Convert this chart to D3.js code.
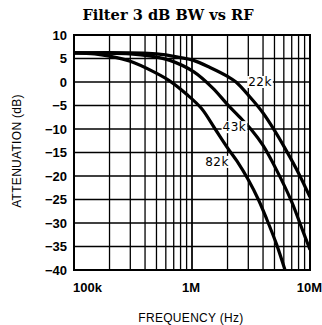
<!DOCTYPE html>
<html><head><meta charset="utf-8">
<script src="https://cdn.jsdelivr.net/npm/d3@7"></script>
<style>html,body{margin:0;padding:0;background:#fff;}svg{display:block;}</style>
</head><body>
<script>
// ---- data ----
const title = "Filter 3 dB BW vs RF";
const xTickValues = [1e5, 1e6, 1e7];
const xTickLabels = ["100k", "1M", "10M"];
const yTickValues = [10, 5, 0, -5, -10, -15, -20, -25, -30, -35, -40];
const seriesNames = ["22k", "43k", "82k"];
const freq22k = [1e5, 5e5, 8e5, 1.03e6, 1.42e6, 2.0e6, 2.36e6, 3.1e6, 4.0e6, 5.0e6, 6.3e6, 8.0e6, 1e7];
const att22k  = [6.2, 6.0, 5.2, 4.6, 3.1, 1.2, 0.0, -3.2, -6.6, -10.3, -14.6, -19.4, -24.5];
const freq43k = [1e5, 3e5, 4.5e5, 6.5e5, 1.03e6, 1.5e6, 2.0e6, 2.5e6, 3.2e6, 4.0e6, 5.2e6, 7.0e6, 8.2e6, 1e7];
const att43k  = [6.2, 6.0, 5.5, 4.6, 2.2, -1.3, -4.8, -7.3, -10.2, -13.5, -18.7, -25.5, -30.0, -35.7];
const freq82k = [1e5, 1.5e5, 2e5, 3e5, 4.7e5, 6.5e5, 9e5, 1.2e6, 1.57e6, 2.0e6, 2.4e6, 3.0e6, 3.65e6, 4.3e6, 5.2e6, 6.14e6];
const att82k  = [6.2, 6.0, 5.5, 4.4, 2.2, 0.2, -2.6, -5.6, -10.0, -14.0, -16.8, -20.8, -25.0, -29.2, -34.5, -40.0];
const labelFreq = [3.77e6, 2.29e6, 1.63e6];
const labelAtt  = [0, -9.6, -17];

(function () {
const series = [
  {name: seriesNames[0], f: freq22k, a: att22k},
  {name: seriesNames[1], f: freq43k, a: att43k},
  {name: seriesNames[2], f: freq82k, a: att82k}
];

// ---- layout ----
const W = 322, H = 325;
const mL = 74, mR = 310, mT = 35, mB = 270;
const svg = d3.select("body").append("svg").attr("width", W).attr("height", H);

const x = d3.scaleLog().domain([1e5, 1e7]).range([mL, mR]);
const y = d3.scaleLinear().domain([-40, 10]).range([mB, mT]);

// title
svg.append("text").attr("x", 168).attr("y", 20).attr("text-anchor", "middle")
  .attr("font-family", "DejaVu Serif").attr("font-weight", "bold").attr("font-size", 14.6)
  .text(title);

// grid
const minor = [];
for (let d = 1e5; d < 1e7; d *= 10) for (let m = 1; m <= 10; m++) minor.push(d * m);
const g = svg.append("g").attr("stroke", "#000").attr("stroke-width", 1.3);
g.selectAll("line.v").data(minor).enter().append("line")
  .attr("x1", d => x(d)).attr("x2", d => x(d)).attr("y1", mT).attr("y2", mB);
g.selectAll("line.h").data(yTickValues).enter().append("line")
  .attr("x1", mL).attr("x2", mR).attr("y1", d => y(d)).attr("y2", d => y(d));

// clip
svg.append("clipPath").attr("id", "clip").append("rect")
  .attr("x", mL).attr("y", mT).attr("width", mR - mL).attr("height", mB - mT);

const line = d3.line().x(d => x(d[0])).y(d => y(d[1])).curve(d3.curveCatmullRom.alpha(0.5));
svg.append("g").attr("clip-path", "url(#clip)").selectAll("path").data(series).enter().append("path")
  .attr("d", s => line(s.f.map((f, i) => [f, s.a[i]])))
  .attr("fill", "none").attr("stroke", "#000").attr("stroke-width", 3.2)
  .attr("stroke-linecap", "butt");

// frame
svg.append("rect").attr("x", mL).attr("y", mT).attr("width", mR - mL).attr("height", mB - mT)
  .attr("fill", "none").attr("stroke", "#000").attr("stroke-width", 2);

// curve labels
series.forEach((s, i) => {
  const t = svg.append("text").attr("x", x(labelFreq[i])).attr("y", y(labelAtt[i]))
    .attr("text-anchor", "middle").attr("dominant-baseline", "central")
    .attr("font-family", "DejaVu Sans").attr("font-size", 12).attr("letter-spacing", 0.5)
    .text(s.name);
  const bb = t.node().getBBox();
  svg.insert("rect", () => t.node()).attr("x", bb.x - 1).attr("y", bb.y + 1)
    .attr("width", bb.width + 2).attr("height", bb.height - 2).attr("fill", "#fff");
});

// y ticks
svg.append("g").selectAll("text").data(yTickValues).enter().append("text")
  .attr("x", 67).attr("y", d => y(d)).attr("dy", "0.36em").attr("text-anchor", "end")
  .attr("font-family", "Liberation Sans").attr("font-weight", "bold").attr("font-size", 13)
  .text(d => d < 0 ? "\u2212" + Math.abs(d) : d);

// x ticks
svg.append("g").selectAll("text").data(xTickValues).enter().append("text")
  .attr("x", (d, i) => i === 0 ? x(d) - 1 : (i === xTickValues.length - 1 ? x(d) + 12 : x(d) - 1))
  .attr("y", 292)
  .attr("text-anchor", (d, i) => i === 0 ? "start" : (i === xTickValues.length - 1 ? "end" : "middle"))
  .attr("font-family", "Liberation Sans").attr("font-weight", "bold").attr("font-size", 13)
  .text((d, i) => xTickLabels[i]);

// axis titles
svg.append("text").attr("x", 191).attr("y", 322).attr("text-anchor", "middle")
  .attr("font-family", "Liberation Sans").attr("font-size", 12).attr("letter-spacing", 0.3)
  .text("FREQUENCY (Hz)");
svg.append("text").attr("transform", "translate(21,151) rotate(-90)").attr("text-anchor", "middle")
  .attr("font-family", "Liberation Sans").attr("font-size", 12).attr("letter-spacing", 0.3)
  .text("ATTENUATION (dB)");
})();
</script>
</body></html>
